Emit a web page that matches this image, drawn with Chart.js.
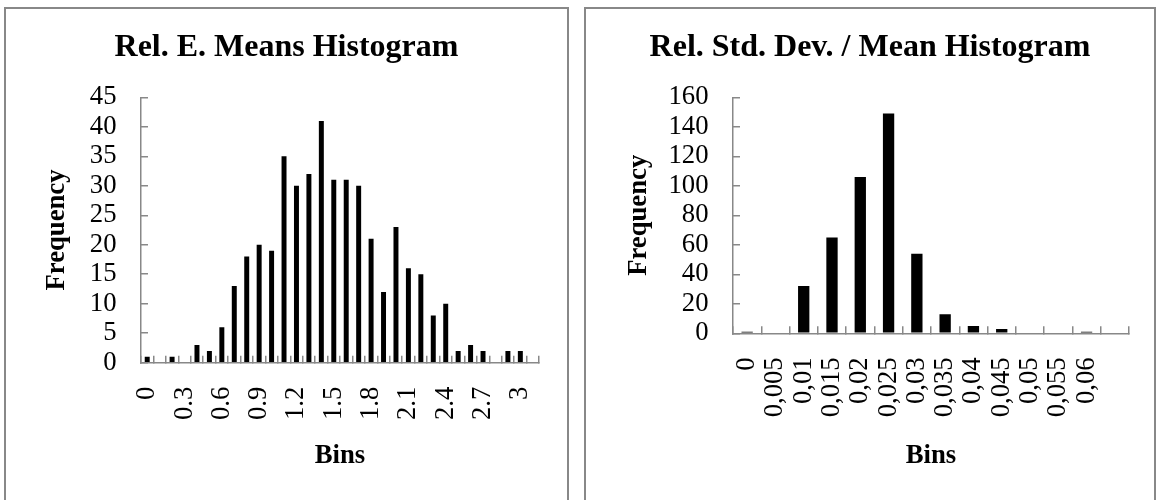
<!DOCTYPE html>
<html>
<head>
<meta charset="utf-8">
<script src="https://cdn.jsdelivr.net/npm/chart.js@4/dist/chart.umd.min.js"></script>
<style>
    body { margin: 0; background: #fff; width: 1157px; height: 500px; overflow: hidden; position: relative; }
    .panel { position: absolute; top: 7px; height: 530px; border: 2px solid #888; box-sizing: border-box; background: #fff; }
    .panel canvas { display: block; }
</style>
</head>
<body>
<div class="panel" style="left:4px; width:565px;"><canvas id="meansChart" width="561" height="491"></canvas></div>
<div class="panel" style="left:584px; width:572px;"><canvas id="stdChart" width="568" height="491"></canvas></div>

<script>
// ===============================
// DATA
// ===============================
// last bin of each histogram is the unlabelled overflow bin
const meansBins = ['0', '0.1', '0.2', '0.3', '0.4', '0.5', '0.6', '0.7', '0.8', '0.9', '1', '1.1', '1.2', '1.3', '1.4', '1.5',
    '1.6', '1.7', '1.8', '1.9', '2', '2.1', '2.2', '2.3', '2.4', '2.5', '2.6', '2.7', '2.8', '2.9', '3', ''];
const meansFreq = [1, 0, 1, 0, 3, 2, 6, 13, 18, 20, 19, 35, 30, 32, 41, 31,
    31, 30, 21, 12, 23, 16, 15, 8, 10, 2, 3, 2, 0, 2, 2, 0];
const meansYTicks = [0, 45, 5]; // min, max, step

const stdBins = ['0', '0,005', '0,01', '0,015', '0,02', '0,025', '0,03', '0,035', '0,04', '0,045', '0,05', '0,055', '0,06', ''];
const stdFreq = [1, 0, 32, 65, 106, 149, 54, 13, 5, 3, 0, 0, 1, 0];
const stdYTicks = [0, 160, 20];

// ===============================
// STYLE
// ===============================
const FONT = "'Liberation Serif', 'Times New Roman', serif";
const AXIS_GRAY = '#888888';
const TICK_FONT = { family: FONT, size: 26.7 };
const AXIS_TITLE_FONT = { family: FONT, size: 26.7, weight: 'bold' };

// ===============================
// CHART BUILDER
// ===============================
function makeHistogram(id, opts) {
    const ctx = document.getElementById(id).getContext('2d');
    return new Chart(ctx, {
        type: 'bar',
        data: {
            labels: opts.bins,
            datasets: [{ data: opts.freq, backgroundColor: '#000', borderWidth: 0, barPercentage: 0.4, categoryPercentage: 1 }]
        },
        options: {
            responsive: false,
            animation: false,
            layout: { padding: { left: opts.side, right: opts.side, top: 20, bottom: 0 } },
            plugins: {
                legend: { display: false },
                tooltip: { enabled: false },
                title: {
                    display: true,
                    text: opts.title,
                    color: '#000',
                    font: { family: FONT, size: 32, weight: 'bold' },
                    padding: { top: 0, bottom: 29.9 }
                }
            },
            scales: {
                x: {
                    offset: true,
                    // ticks sit on bin edges, pointing into the plot
                    grid: { offset: true, drawOnChartArea: false, drawTicks: true, tickLength: -7, color: AXIS_GRAY, lineWidth: 1.5 },
                    border: { color: AXIS_GRAY, width: 1.5 },
                    ticks: {
                        autoSkip: false,
                        minRotation: 90,
                        maxRotation: 90,
                        padding: 31,
                        color: '#000',
                        font: TICK_FONT,
                        callback: (v, i) => (i % opts.labelEvery === 0 ? opts.bins[i] : '')
                    },
                    title: { display: true, text: 'Bins', color: '#000', font: AXIS_TITLE_FONT, padding: { top: 0, bottom: 28 } },
                    afterFit: (s) => { s.height = opts.xHeight; s.paddingLeft = 0; s.paddingRight = 0; }
                },
                y: {
                    min: opts.yTicks[0],
                    max: opts.yTicks[1],
                    grid: { drawOnChartArea: false, drawTicks: true, tickLength: -7, color: AXIS_GRAY, lineWidth: 1.5 },
                    border: { color: AXIS_GRAY, width: 1.5 },
                    ticks: { autoSkip: false, stepSize: opts.yTicks[2], padding: 31.5, color: '#000', font: TICK_FONT },
                    title: { display: true, text: 'Frequency', color: '#000', font: AXIS_TITLE_FONT, padding: { top: opts.yTitlePad, bottom: 0 } },
                    afterFit: (s) => { s.width = opts.yWidth; s.paddingTop = 0; s.paddingBottom = 0; }
                }
            }
        }
    });
}

// ===============================
// INIT
// ===============================
makeHistogram('meansChart', {
    title: 'Rel. E. Means Histogram',
    bins: meansBins, freq: meansFreq, yTicks: meansYTicks,
    labelEvery: 3, side: 28, yWidth: 107, xHeight: 137.3, yTitlePad: 7
});

makeHistogram('stdChart', {
    title: 'Rel. Std. Dev. / Mean Histogram',
    bins: stdBins, freq: stdFreq, yTicks: stdYTicks,
    labelEvery: 1, side: 25, yWidth: 122, xHeight: 166.7, yTitlePad: 12.5
});
</script>
</body>
</html>
